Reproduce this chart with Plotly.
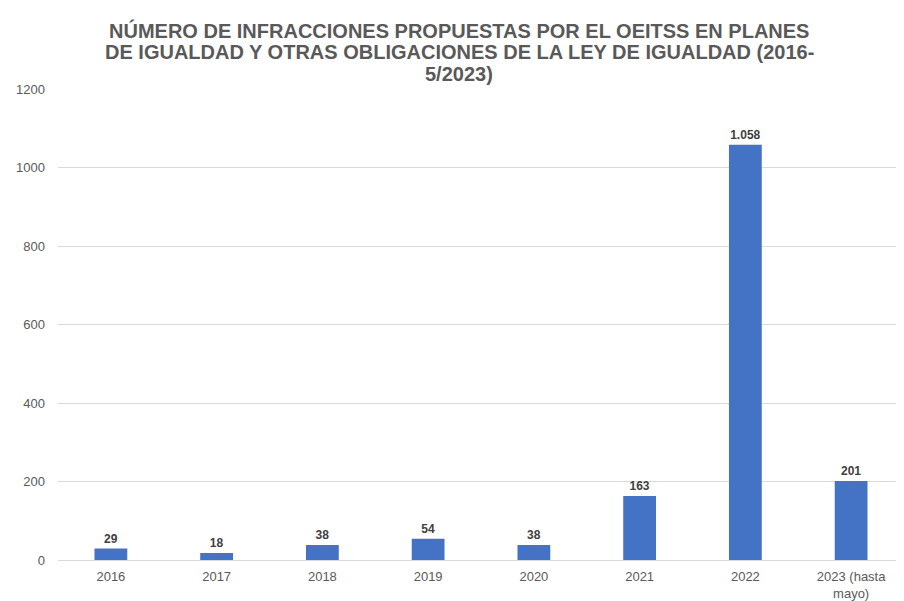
import plotly.graph_objects as go

categories = ["2016", "2017", "2018", "2019", "2020", "2021", "2022", "2023 (hasta<br>mayo)"]
values = [29, 18, 38, 54, 38, 163, 1058, 201]
y_ticks = [0, 200, 400, 600, 800, 1000, 1200]
title_lines = [
    "NÚMERO DE INFRACCIONES PROPUESTAS POR EL OEITSS EN PLANES",
    "DE IGUALDAD Y OTRAS OBLIGACIONES DE LA LEY DE IGUALDAD (2016-",
    "5/2023)",
]

labels = [f"{v:,}".replace(",", ".") for v in values]

# page body has an 8px margin; figure is sized to fill the rest of the window
OFF = 8
W, H = 904 - OFF, 601 - OFF
M_L, M_R, M_T, M_B = 58 - OFF, 0, 89 - OFF, 41
plot_w = W - M_L - M_R
plot_h = H - M_T - M_B

fig = go.Figure(go.Bar(
    x=categories, y=values, text=labels, textposition="outside",
    marker=dict(color="#4472C4", line=dict(width=0)),
    textfont=dict(family="Liberation Sans, Arial", size=12, color="#404040", weight="bold"),
    cliponaxis=False,
))

title_center_x = 459 - OFF
title_y_px = [30 - OFF, 52 - OFF, 74 - OFF]
for line, ypx in zip(title_lines, title_y_px):
    fig.add_annotation(
        text=line, xref="paper", yref="paper",
        x=(title_center_x - M_L) / plot_w,
        y=(H - M_B - ypx) / plot_h, xanchor="center", yanchor="middle", showarrow=False,
        font=dict(family="Liberation Sans, Arial", size=20, color="#595959", weight="bold"),
    )

fig.update_layout(
    width=W, height=H,
    margin=dict(l=M_L, r=M_R, t=M_T, b=M_B, autoexpand=False),
    paper_bgcolor="white", plot_bgcolor="white",
    bargap=0.69,
    showlegend=False,
    font=dict(family="Liberation Sans, Arial", color="#595959", size=13),
    xaxis=dict(showgrid=False, showline=True, linecolor="#d9d9d9", linewidth=1,
               ticks="", automargin=False, ticklabelstandoff=4,
               tickfont=dict(size=13, color="#595959")),
    yaxis=dict(range=[0, 1200], tickvals=y_ticks, showgrid=True, gridcolor="#d9d9d9",
               gridwidth=1, zeroline=False, showline=False, ticks="", automargin=False,
               ticklabelstandoff=12, tickfont=dict(size=13, color="#595959")),
)

fig.write_html("out.html")
